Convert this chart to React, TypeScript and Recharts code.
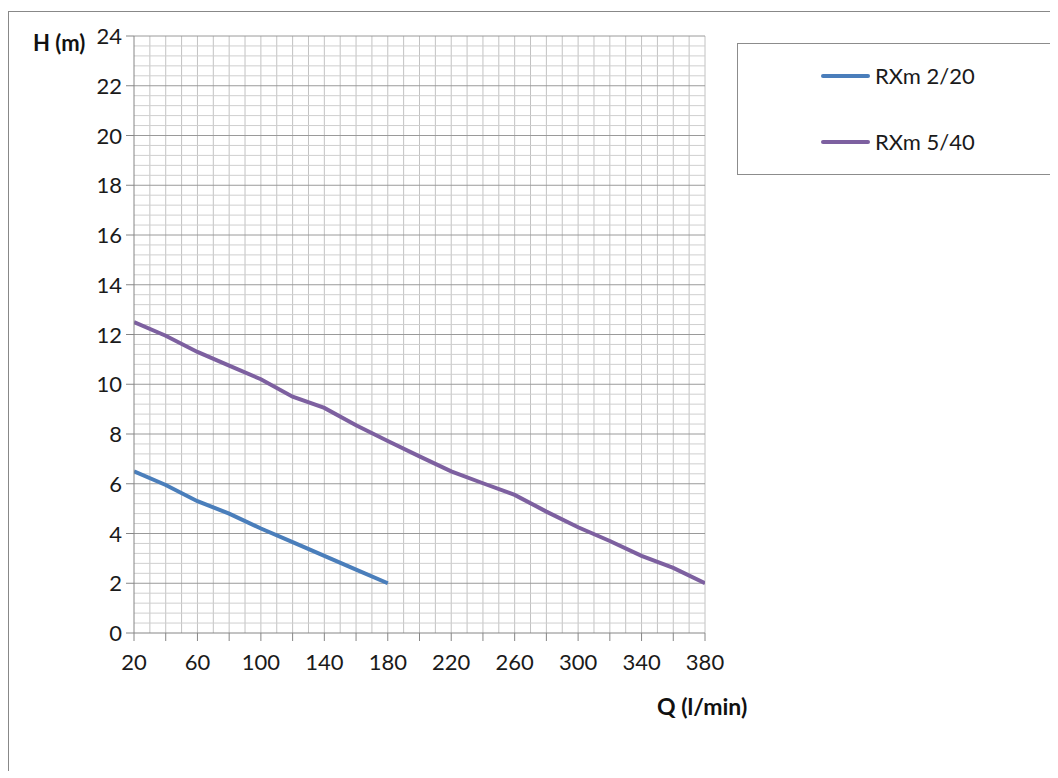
import { LineChart, Line, XAxis, YAxis, ReferenceLine } from 'recharts';

const FONT = 'Lato, "Open Sans", sans-serif';

// Q (l/min) values for each pump
const qRXm220 = [20, 40, 60, 80, 100, 120, 140, 160, 180];
const qRXm540 = [20, 40, 60, 80, 100, 120, 140, 160, 180, 200, 220, 240, 260, 280, 300, 320, 340, 360, 380];

// H (m)
const hRXm220 = [6.5, 5.95, 5.3, 4.8, 4.2, 3.65, 3.1, 2.55, 2.0];
const hRXm540 = [12.5, 11.95, 11.3, 10.75, 10.2, 9.5, 9.05, 8.35, 7.72, 7.1, 6.5, 6.02, 5.55, 4.88, 4.25, 3.7, 3.1, 2.62, 2.0];

const xTicks = [20, 40, 60, 80, 100, 120, 140, 160, 180, 200, 220, 240, 260, 280, 300, 320, 340, 360, 380];
const xLabels = [20, 60, 100, 140, 180, 220, 260, 300, 340, 380];
const yTicks = [0, 2, 4, 6, 8, 10, 12, 14, 16, 18, 20, 22, 24];

const SERIES = [
  { name: 'RXm 2/20', color: '#4A7EBB', q: qRXm220, h: hRXm220 },
  { name: 'RXm 5/40', color: '#7D60A0', q: qRXm540, h: hRXm540 },
];

// grid: vertical every 10, horizontal minor every 0.4 (major at axis ticks)
const vGrid: number[] = [];
for (let v = 30; v <= 380; v += 10) vGrid.push(v);
const hMinor: number[] = [];
for (let i = 1; i <= 60; i++) if (i % 5 !== 0) hMinor.push(+(i * 0.4).toFixed(1));

const XTick = (props: any) => {
  const { x, y, payload } = props;
  if (!xLabels.includes(payload.value)) return <g />;
  return (
    <text x={x} y={y + 25} textAnchor="middle" fontFamily={FONT} fontSize={22} fill="#1a1a1a">
      {payload.value}
    </text>
  );
};

const YTick = (props: any) => {
  const { x, y, payload } = props;
  return (
    <text x={x} y={y + 8} textAnchor="end" fontFamily={FONT} fontSize={22} fill="#1a1a1a">
      {payload.value}
    </text>
  );
};

// legend drawn as a plain box so it doesn't eat into the plot area
const LegendBox = () => (
  <div
    style={{
      position: 'absolute',
      left: 728,
      top: 31,
      width: 315,
      height: 132,
      border: '1px solid #8c8c8c',
      boxSizing: 'border-box',
      fontFamily: FONT,
      fontSize: 22,
      color: '#1a1a1a',
    }}
  >
    {SERIES.map((s, i) => (
      <div key={s.name} style={{ position: 'absolute', left: 83, top: 18 + i * 66, display: 'flex', alignItems: 'center' }}>
        <div style={{ width: 49, height: 4, background: s.color, borderRadius: 2, marginRight: 5 }} />
        <span>{s.name}</span>
      </div>
    ))}
  </div>
);

export default function App() {
  return (
    <div
      style={{
        position: 'relative',
        marginTop: 3,
        width: 1048,
        height: 759,
        borderTop: '1px solid #888',
        borderLeft: '1px solid #888',
        borderRight: '1px solid #888',
      }}
    >
      <div style={{ position: 'absolute', left: 24, top: 17, fontFamily: FONT, fontWeight: 'bold', fontSize: 22, color: '#111' }}>
        H (m)
      </div>
      <div style={{ position: 'absolute', left: 648, top: 680, fontFamily: FONT, fontWeight: 'bold', fontSize: 23, color: '#111' }}>
        Q (l/min)
      </div>
      <LegendBox />
      <LineChart width={1040} height={700} margin={{ top: 24, right: 344, bottom: 49, left: 65 }}>
        <XAxis
          type="number"
          dataKey="q"
          domain={[20, 380]}
          ticks={xTicks}
          interval={0}
          allowDataOverflow
          stroke="#868686"
          tickSize={8}
          tickMargin={4}
          tick={<XTick />}
          height={30}
        />
        <YAxis
          domain={[0, 24]}
          ticks={yTicks}
          interval={0}
          allowDataOverflow
          stroke="#868686"
          tickSize={8}
          tickMargin={4}
          tick={<YTick />}
          width={60}
        />
        {vGrid.map((v) => (
          <ReferenceLine key={'v' + v} x={v} stroke="#c2c2c2" strokeWidth={1} />
        ))}
        {hMinor.map((v) => (
          <ReferenceLine key={'h' + v} y={v} stroke="#cfcfcf" strokeWidth={1} />
        ))}
        {yTicks.slice(1).map((v) => (
          <ReferenceLine key={'m' + v} y={v} stroke="#9a9a9a" strokeWidth={1} />
        ))}
        {SERIES.map((s) => (
          <Line
            key={s.name}
            name={s.name}
            data={s.q.map((q, i) => ({ q, h: s.h[i] }))}
            dataKey="h"
            stroke={s.color}
            strokeWidth={4}
            dot={false}
            activeDot={false}
            isAnimationActive={false}
          />
        ))}
      </LineChart>
    </div>
  );
}
